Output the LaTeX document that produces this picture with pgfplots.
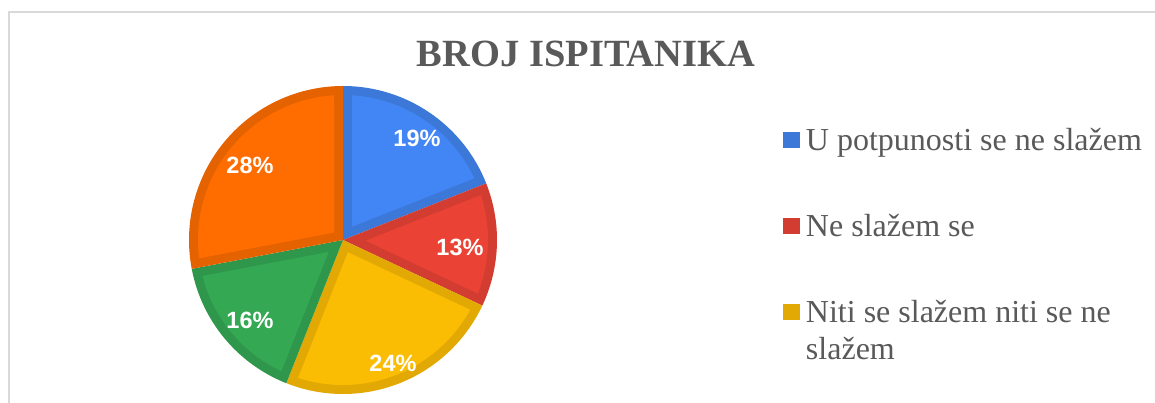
\documentclass[border=0pt]{standalone}
\usepackage{pgfplots}
\pgfplotsset{compat=1.18}
\usepackage{fontspec}
\setmainfont{Liberation Serif}
\newfontfamily\labelfont{Liberation Sans}
\definecolor{cBlue}{HTML}{4285F4}
\definecolor{cBlueD}{HTML}{3C78D8}
\definecolor{cRed}{HTML}{EA4335}
\definecolor{cRedD}{HTML}{D33C30}
\definecolor{cYel}{HTML}{FBBC04}
\definecolor{cYelD}{HTML}{E2A904}
\definecolor{cGrn}{HTML}{34A853}
\definecolor{cGrnD}{HTML}{2F974B}
\definecolor{cOra}{HTML}{FF6D01}
\definecolor{cOraD}{HTML}{E56201}
\definecolor{txt}{HTML}{595959}
\definecolor{frame}{HTML}{D9D9D9}
% Shares (%): U potpunosti se ne slazem 19, Ne slazem se 13,
% Niti se slazem niti se ne slazem 24, (green) 16, (orange) 28
% Slices run clockwise from 90 deg, 3.6 deg per percent.
\begin{document}
\begin{tikzpicture}
\useasboundingbox (0,0) rectangle (1155bp,403bp);
\draw[frame, line width=2bp] (8.5bp,0) -- (8.5bp,391.3bp) -- (1155bp,391.3bp);
\begin{axis}[at={(0,0)}, anchor=south west, x=1bp, y=1bp,
  xmin=0, xmax=1155, ymin=0, ymax=403, hide axis, clip=false,
  samples=120,
  legend image code/.code={\fill[#1] (0bp,-6bp) rectangle (17bp,10bp); \path (23bp,0bp);},
  legend style={at={(783/1155,277/403)}, anchor=north west, draw=none, fill=none,
    inner sep=0pt, outer sep=0pt, row sep=54bp, column sep=0pt,
    font=\fontsize{32bp}{37bp}\selectfont, text=txt,
    nodes={inner sep=0pt, text height=24bp, text depth=8bp}},
  legend cell align=left]
% blue 19%
\addplot[fill=cBlueD, draw=none, domain=21.6:90] ({343+154*cos(x)},{163+154*sin(x)}) -- (axis cs:343,163) -- cycle;
\addlegendentry{U potpunosti se ne slažem}
\addplot[fill=cBlue, draw=none, forget plot, domain=25.16:86.44] ({343+145*cos(x)},{163+145*sin(x)}) -- (axis cs:352.0,176.24) -- cycle;
% red 13%
\addplot[fill=cRedD, draw=none, domain=-25.2:21.6] ({343+154*cos(x)},{163+154*sin(x)}) -- (axis cs:343,163) -- cycle;
\addlegendentry{Ne slažem se}
\addplot[fill=cRed, draw=none, forget plot, domain=-21.64:18.04] ({343+145*cos(x)},{163+145*sin(x)}) -- (axis cs:365.65,162.29) -- cycle;
% yellow 24%
\addplot[fill=cYelD, draw=none, domain=-111.6:-25.2] ({343+154*cos(x)},{163+154*sin(x)}) -- (axis cs:343,163) -- cycle;
\addlegendentry{{\begin{tabular}[t]{@{}l@{}}Niti se slažem niti se ne\\slažem\end{tabular}}}
\addplot[fill=cYel, draw=none, forget plot, domain=-108.04:-28.76] ({343+145*cos(x)},{163+145*sin(x)}) -- (axis cs:347.84,150.77) -- cycle;
% green 16%
\addplot[fill=cGrnD, draw=none, forget plot, domain=-169.2:-111.6] ({343+154*cos(x)},{163+154*sin(x)}) -- (axis cs:343,163) -- cycle;
\addplot[fill=cGrn, draw=none, forget plot, domain=-165.64:-115.16] ({343+145*cos(x)},{163+145*sin(x)}) -- (axis cs:328.61,151.09) -- cycle;
% orange 28%
\addplot[fill=cOraD, draw=none, forget plot, domain=90:190.8] ({343+154*cos(x)},{163+154*sin(x)}) -- (axis cs:343,163) -- cycle;
\addplot[fill=cOra, draw=none, forget plot, domain=93.56:187.24] ({343+145*cos(x)},{163+145*sin(x)}) -- (axis cs:334.0,170.44) -- cycle;
% labels
\tikzset{pct/.style={anchor=base, text=white, inner sep=0pt, font=\labelfont\bfseries\fontsize{23.5bp}{28bp}\selectfont}}
\node[pct] at (axis cs:417,256.5) {19\%};
\node[pct] at (axis cs:460,147.5) {13\%};
\node[pct] at (axis cs:393,31.5) {24\%};
\node[pct] at (axis cs:250,74.5) {16\%};
\node[pct] at (axis cs:250,229.5) {28\%};
\node[anchor=base, text=txt, inner sep=0pt, font=\bfseries\fontsize{38.5bp}{44bp}\selectfont] at (axis cs:586,336.5) {BROJ ISPITANIKA};
\end{axis}
\end{tikzpicture}
\end{document}
